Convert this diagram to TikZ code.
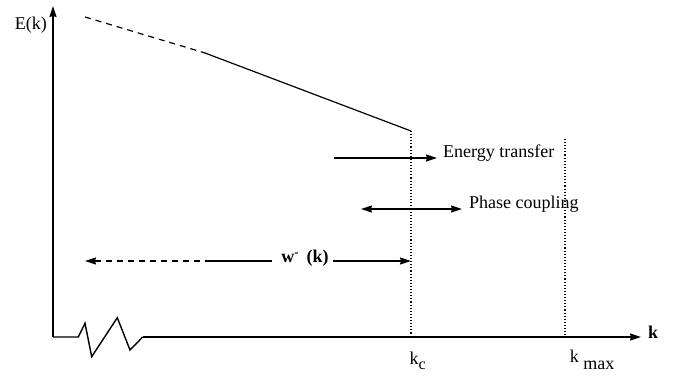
\documentclass[tikz,border=0pt]{standalone}
\usepackage{fontspec}
\setmainfont{Liberation Serif}
\usetikzlibrary{arrows.meta}
\tikzset{
  axisline/.style={line width=1.4pt},
  curveline/.style={line width=1.2pt},
  guide/.style={line width=1.1pt, dotted},
  tip/.style={-{Stealth[length=11pt,width=7pt,inset=1pt]}},
  dtip/.style={{Stealth[length=11pt,width=7pt,inset=1pt]}-{Stealth[length=11pt,width=7pt,inset=1pt]}},
  lbl/.style={inner sep=0pt, font=\fontsize{18}{21}\selectfont},
}
\begin{document}
\begin{tikzpicture}[x=1pt,y=-1pt]
\useasboundingbox (0,0) rectangle (673,377);
% axes
\coordinate (O) at (53,337);
\coordinate (ytop) at (53,6);
\coordinate (xend) at (641,337);
\draw[axisline,tip] (O) -- (ytop);
\draw[axisline] (O) -- (78.3,337) -- (85,323.3) -- (91.7,356.7) -- (117.3,317.7) -- (130,350) -- (142.7,337);
\draw[axisline,tip] (142.7,337) -- (xend);
\node[lbl,anchor=east] (Ek) at (47,25) {E(k)};
\node[lbl,anchor=west] (kax) at (648,332) {\bfseries k};
% spectrum
\coordinate (s0) at (85,17);
\coordinate (s1) at (205,53);
\coordinate (kc) at (411,131);
\draw[curveline,dash pattern=on 6pt off 5pt] (s0) -- (s1);
\draw[curveline] (s1) -- (kc);
% dotted guides
\coordinate (kcb) at (411,337);
\coordinate (kmt) at (565,139);
\coordinate (kmb) at (565,337);
\draw[guide] (kc) -- (kcb);
\draw[guide] (kmt) -- (kmb);
\node[lbl] (kclbl) at (418,361) {k\textsubscript{\raisebox{-3pt}{\fontsize{16}{18}\selectfont c}}};
\node[lbl] (kmlbl) at (592,360) {k \raisebox{-7pt}{max}};
% energy transfer
\node[lbl,anchor=west] (et) at (443,153) {Energy transfer};
\coordinate (et0) at (334,158);
\draw[curveline,tip] (et0) -- (437,158);
% phase coupling
\node[lbl,anchor=west] (pc) at (469,204) {Phase coupling};
\draw[curveline,dtip] (361,209) -- (462,209);
% w-(k)
\node[lbl] (wk) at (305,258) {\bfseries w\textsuperscript{-}\, (k)};
\coordinate (wl) at (85,261);
\coordinate (wm) at (207,261);
\draw[curveline,dash pattern=on 6pt off 5pt,{Stealth[length=11pt,width=7pt,inset=1pt]}-] (wl) -- (wm);
\draw[curveline] (wm) -- (272,261);
\draw[curveline,tip] (333,261) -- (411,261);
\end{tikzpicture}
\end{document}
